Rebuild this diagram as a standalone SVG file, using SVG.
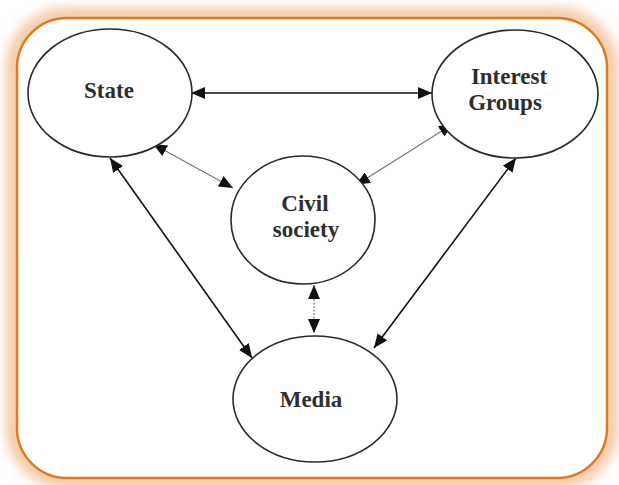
<svg xmlns="http://www.w3.org/2000/svg" width="619" height="485" viewBox="0 0 619 485">
<style>
.node{fill:#fff;stroke:#2a2a2a;stroke-width:1.6}
.lbl{font-family:"Liberation Serif",serif;font-size:23px;font-weight:bold;fill:#2e2e2e;text-anchor:middle}
.c{stroke:#111;stroke-width:1.6;fill:none}
.thin{stroke:#777;stroke-width:1.2;fill:none}
</style>
<defs>
<marker id="ah" viewBox="0 0 14 12" refX="14" refY="6" markerWidth="14" markerHeight="12" markerUnits="userSpaceOnUse" orient="auto-start-reverse">
<path d="M0,0 L14,6 L0,12 Z" fill="#111"/>
</marker>
<filter id="glow" x="-10%" y="-10%" width="120%" height="120%">
<feGaussianBlur stdDeviation="7"/>
</filter>
</defs>
<rect width="619" height="485" fill="#fff"/>
<g id="frame">
<rect x="14" y="16" width="596" height="464" rx="52" fill="none" stroke="#eb9a55" stroke-width="12" opacity="0.75" filter="url(#glow)"/>
<rect x="17" y="18" width="590" height="460" rx="50" fill="#fff" stroke="#e07a22" stroke-width="2.5"/>
</g>
<g id="connectors">
<line class="c" x1="191" y1="93" x2="432" y2="93" marker-start="url(#ah)" marker-end="url(#ah)"/>
<line class="thin" x1="153" y1="144" x2="233" y2="188" marker-start="url(#ah)" marker-end="url(#ah)"/>
<line class="thin" x1="453" y1="124" x2="356" y2="185" marker-start="url(#ah)" marker-end="url(#ah)"/>
<line class="thin" x1="314" y1="285" x2="314" y2="333" stroke-dasharray="2 1.5" marker-start="url(#ah)" marker-end="url(#ah)"/>
<line class="c" x1="110" y1="158" x2="252" y2="358" marker-start="url(#ah)" marker-end="url(#ah)"/>
<line class="c" x1="516" y1="158" x2="374" y2="348" marker-start="url(#ah)" marker-end="url(#ah)"/>
</g>
<g id="state">
<ellipse class="node" cx="110" cy="93" rx="82" ry="64"/>
<text class="lbl" x="109" y="98">State</text>
</g>
<g id="interest-groups">
<ellipse class="node" cx="515" cy="94" rx="83" ry="64"/>
<text class="lbl" x="509" y="84">Interest</text>
<text class="lbl" x="505" y="110">Groups</text>
</g>
<g id="civil-society">
<ellipse class="node" cx="303" cy="220" rx="72" ry="64"/>
<text class="lbl" x="305" y="211">Civil</text>
<text class="lbl" x="306" y="237">society</text>
</g>
<g id="media">
<ellipse class="node" cx="315" cy="399" rx="82" ry="63"/>
<text class="lbl" x="311" y="407">Media</text>
</g>
</svg>
